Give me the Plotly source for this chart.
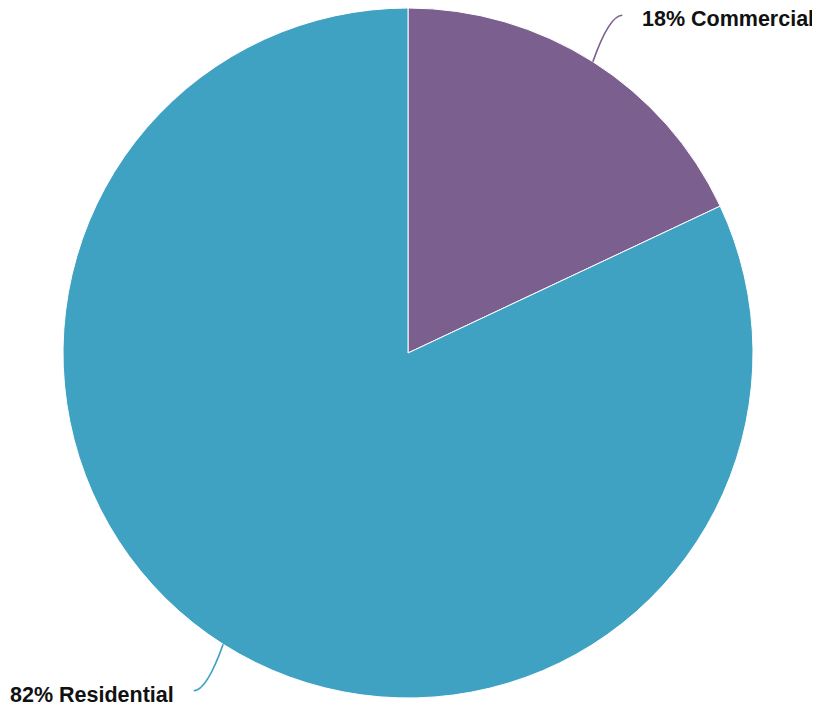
import math
import plotly.graph_objects as go

labels = ["Commercial", "Residential"]
values = [18, 82]
colors = ["#7b5f8e", "#40a2c2"]

W, H = 820, 707
OFF = 8  # default page body margin
cx, cy, r = 408 - OFF, 353 - OFF, 345  # pixel centre / radius of the pie

fig = go.Figure(go.Pie(
    labels=labels, values=values, sort=False, direction="clockwise", rotation=0,
    marker=dict(colors=colors, line=dict(color="white", width=1)),
    textinfo="none", hoverinfo="label+percent", showlegend=False,
    domain=dict(x=[(cx - r) / W, (cx + r) / W],
                y=[(H - cy - r) / H, (H - cy + r) / H]),
))

def px(x, y):
    return x / W, 1 - y / H

total = sum(values)
cum = 0
shapes, annotations = [], []
for lab, v, col in zip(labels, values, colors):
    mid = (cum + v / 2) / total * 2 * math.pi
    cum += v
    sx, sy = math.sin(mid), -math.cos(mid)
    x0, y0 = cx + r * sx, cy + r * sy
    x1, y1 = cx + (r + 55) * sx, cy + (r + 55) * sy
    side = 1 if sx >= 0 else -1
    qx, qy = x1 - 13 * side, y1
    a = px(x0, y0); q = px(qx, qy); b = px(x1, y1)
    shapes.append(dict(type="path", xref="paper", yref="paper",
                       path=f"M {a[0]},{a[1]} Q {q[0]},{q[1]} {b[0]},{b[1]}",
                       line=dict(color=col, width=1.7)))
    pct = round(v / total * 100)
    tx, ty = px(x1 + 18 * side, y1 + 4)
    annotations.append(dict(xref="paper", yref="paper", x=tx, y=ty,
                            text=f"<b>{pct}% {lab}</b>", showarrow=False,
                            xanchor="left" if side > 0 else "right", yanchor="middle",
                            font=dict(family="Liberation Sans, Arial, sans-serif",
                                      size=21.5, color="#111111")))

fig.update_layout(width=W, height=H, margin=dict(l=0, r=0, t=0, b=0),
                  paper_bgcolor="white", plot_bgcolor="white",
                  shapes=shapes, annotations=annotations)
fig.write_html("out.html")
